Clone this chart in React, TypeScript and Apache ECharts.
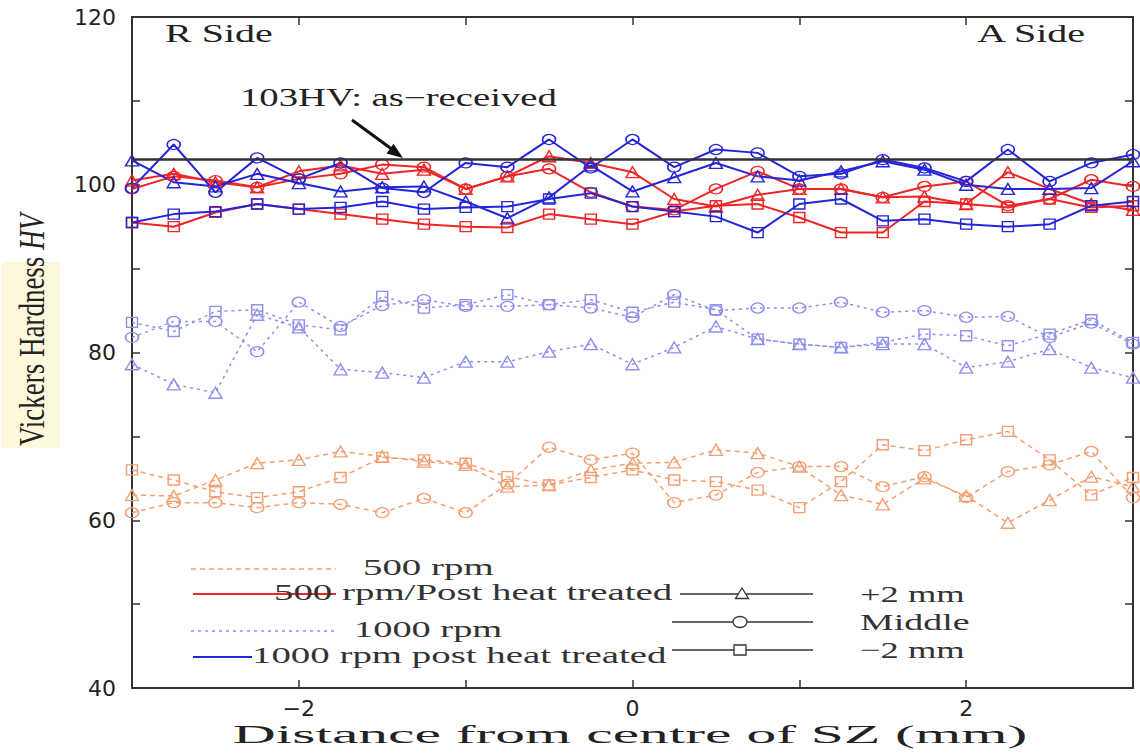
import React, { useEffect, useRef } from "react";
import * as echarts from "echarts";

// ---------- data ----------
const xPositions = [-3, -2.75, -2.5, -2.25, -2, -1.75, -1.5, -1.25, -1, -0.75, -0.5, -0.25, 0, 0.25, 0.5, 0.75, 1, 1.25, 1.5, 1.75, 2, 2.25, 2.5, 2.75, 3];

// 500 rpm (dashed orange)
const rpm500Plus2 = [63.0, 62.9, 64.8, 66.8, 67.2, 68.2, 67.6, 67.0, 66.6, 64.0, 64.2, 66.0, 66.8, 66.9, 68.4, 68.0, 66.4, 63.0, 61.9, 65.0, 62.9, 59.7, 62.4, 65.2, 64.0];
const rpm500Middle = [60.9, 62.1, 62.1, 61.5, 62.1, 61.9, 60.9, 62.6, 60.9, 64.3, 68.7, 67.2, 68.0, 62.1, 63.0, 65.7, 66.4, 66.4, 64.0, 65.2, 62.7, 65.8, 66.6, 68.2, 62.7];
const rpm500Minus2 = [66.0, 64.8, 63.4, 62.7, 63.4, 65.1, 67.5, 67.2, 66.8, 65.2, 64.2, 65.1, 66.0, 64.8, 64.6, 63.6, 61.5, 64.6, 69.0, 68.3, 69.6, 70.6, 67.2, 63.0, 65.1];

// 1000 rpm (dotted blue)
const rpm1000Plus2 = [78.6, 76.2, 75.2, 84.5, 83.0, 78.0, 77.6, 77.0, 78.9, 78.9, 80.1, 81.0, 78.6, 80.6, 83.1, 81.6, 81.0, 80.6, 81.0, 81.0, 78.2, 78.9, 80.4, 78.2, 77.0];
const rpm1000Middle = [81.8, 83.7, 83.7, 80.1, 86.0, 83.1, 85.6, 86.3, 85.5, 85.5, 85.7, 85.3, 84.2, 86.9, 85.0, 85.3, 85.3, 86.0, 84.8, 85.0, 84.2, 84.3, 81.8, 83.5, 81.0];
const rpm1000Minus2 = [83.6, 82.5, 84.9, 85.1, 83.3, 82.7, 86.7, 85.3, 85.7, 86.9, 85.7, 86.3, 84.8, 86.0, 85.1, 81.6, 81.0, 80.6, 81.2, 82.2, 82.0, 80.8, 82.2, 83.9, 81.2];

// 500 rpm / post heat treated (solid red)
const rpm500PhtPlus2 = [100.5, 101.3, 100.3, 99.7, 101.6, 102.3, 101.3, 101.8, 99.5, 101.0, 103.4, 102.6, 101.5, 98.3, 97.4, 98.8, 99.5, 99.5, 98.5, 98.6, 97.7, 101.5, 99.5, 97.7, 97.0];
const rpm500PhtMiddle = [99.5, 101.0, 100.5, 99.7, 100.7, 101.3, 102.4, 102.1, 99.5, 101.0, 101.9, 99.1, 97.4, 97.0, 99.5, 101.6, 99.5, 99.5, 98.5, 99.8, 100.4, 97.5, 98.3, 100.6, 99.8];
const rpm500PhtMinus2 = [95.5, 95.0, 96.7, 97.7, 97.1, 96.5, 95.9, 95.3, 95.0, 94.9, 96.5, 95.9, 95.3, 96.8, 97.5, 97.7, 96.1, 94.3, 94.3, 98.0, 97.7, 97.3, 98.3, 97.3, 97.5];

// 1000 rpm post heat treated (solid blue)
const rpm1000PhtPlus2 = [102.9, 100.3, 99.8, 101.3, 100.2, 99.2, 99.7, 99.8, 98.0, 96.0, 98.5, 102.3, 99.2, 100.9, 102.6, 101.0, 100.5, 101.6, 102.8, 101.8, 100.0, 99.5, 99.5, 99.6, 102.8];
const rpm1000PhtMiddle = [99.6, 104.8, 99.1, 103.2, 100.7, 102.6, 99.6, 99.1, 102.6, 102.1, 105.4, 102.0, 105.4, 102.1, 104.2, 103.8, 101.0, 101.3, 103.0, 102.0, 100.4, 104.2, 100.4, 102.6, 103.6];
const rpm1000PhtMinus2 = [95.5, 96.5, 96.8, 97.7, 97.1, 97.3, 98.0, 97.1, 97.3, 97.4, 98.3, 99.0, 97.4, 96.8, 96.2, 94.3, 97.7, 98.3, 95.7, 95.9, 95.3, 95.0, 95.3, 97.5, 98.0];

const AS_RECEIVED = 103;
const xLabelledTicks = [-2, 0, 2];
const yLabelledTicks = [40, 60, 80, 100, 120];

// ---------- styles ----------
const C_ORANGE = "#f3a074";
const C_LAVENDER = "#8f8fee";
const C_RED = "#f02525";
const C_BLUE = "#2424d8";
const SERIF = '"Liberation Serif", "Times New Roman", serif';
const SANS = '"DejaVu Sans", sans-serif';

const MARKERS: Record<string, { symbol: string; size: number[] }> = {
  plus2: { symbol: "triangle", size: [13, 11] },
  middle: { symbol: "circle", size: [13, 10] },
  minus2: { symbol: "rect", size: [11, 10] },
};

function makeSeries(name: string, ys: number[], color: string, marker: string, dashed: number[] | null, width: number) {
  const m = MARKERS[marker];
  return {
    name,
    type: "line",
    data: xPositions.map((x, i) => [x, ys[i]]),
    symbol: m.symbol,
    symbolSize: m.size,
    showSymbol: true,
    lineStyle: { color, width, type: dashed ? dashed : "solid" },
    itemStyle: { color: "rgba(255,255,255,0)", borderColor: color, borderWidth: 1.4 },
    emphasis: { disabled: true },
    silent: true,
  };
}

function txt(text: string, x: number, y: number, size: number, sx: number, align = "left", fill = "#333") {
  return {
    type: "text",
    x,
    y,
    scaleX: sx,
    z: 100,
    style: {
      text,
      x: 0,
      y: 0,
      fill,
      fontFamily: SERIF,
      fontSize: size,
      textAlign: align,
      align,
      textVerticalAlign: "middle",
      verticalAlign: "middle",
    },
  };
}

function hline(x1: number, x2: number, y: number, stroke: string, lineWidth: number, lineDash?: number[]) {
  return {
    type: "line",
    z: 99,
    shape: { x1, y1: y, x2, y2: y },
    style: { stroke, lineWidth, lineDash: lineDash || null },
  };
}

export default function App() {
  const ref = useRef<HTMLDivElement>(null);

  useEffect(() => {
    if (!ref.current) return;
    const chart = echarts.init(ref.current, null, { renderer: "svg" });

    const axisLine = { show: true, onZero: false, lineStyle: { color: "#333", width: 2 } };
    const axisTick = { show: true, inside: true, length: 8, lineStyle: { color: "#333", width: 1.5 } };

    const fmtX = (v: number) => (xLabelledTicks.includes(v) ? (v < 0 ? "\u2212" + Math.abs(v) : String(v)) : "");
    const fmtY = (v: number) => (yLabelledTicks.includes(v) ? String(v) : "");

    const series: any[] = [
      makeSeries("500 rpm +2 mm", rpm500Plus2, C_ORANGE, "plus2", [5, 4], 1.5),
      makeSeries("500 rpm Middle", rpm500Middle, C_ORANGE, "middle", [5, 4], 1.5),
      makeSeries("500 rpm −2 mm", rpm500Minus2, C_ORANGE, "minus2", [5, 4], 1.5),
      makeSeries("1000 rpm +2 mm", rpm1000Plus2, C_LAVENDER, "plus2", [3, 4], 1.5),
      makeSeries("1000 rpm Middle", rpm1000Middle, C_LAVENDER, "middle", [3, 4], 1.5),
      makeSeries("1000 rpm −2 mm", rpm1000Minus2, C_LAVENDER, "minus2", [3, 4], 1.5),
      makeSeries("500 rpm/Post heat treated +2 mm", rpm500PhtPlus2, C_RED, "plus2", null, 2),
      makeSeries("500 rpm/Post heat treated Middle", rpm500PhtMiddle, C_RED, "middle", null, 2),
      makeSeries("500 rpm/Post heat treated −2 mm", rpm500PhtMinus2, C_RED, "minus2", null, 2),
      makeSeries("1000 rpm post heat treated +2 mm", rpm1000PhtPlus2, C_BLUE, "plus2", null, 2),
      makeSeries("1000 rpm post heat treated Middle", rpm1000PhtMiddle, C_BLUE, "middle", null, 2),
      makeSeries("1000 rpm post heat treated −2 mm", rpm1000PhtMinus2, C_BLUE, "minus2", null, 2),
    ];
    series[series.length - 1].markLine = {
      silent: true,
      symbol: ["none", "none"],
      label: { show: false },
      lineStyle: { color: "#333", width: 2.5, type: "solid" },
      data: [{ yAxis: AS_RECEIVED }],
    };

    const graphic: any[] = [
      // pale highlight behind y title
      { type: "rect", z: 1, shape: { x: 2, y: 262, width: 58, height: 186 }, style: { fill: "#fdf8dc" } },
      {
        type: "text",
        x: 32,
        y: 330,
        rotation: Math.PI / 2,
        scaleY: 1.3,
        z: 100,
        style: {
          text: "{a|Vickers Hardness }{b|HV}",
          rich: {
            a: { fontFamily: SERIF, fontSize: 27, fill: "#222", color: "#222" },
            b: { fontFamily: SERIF, fontSize: 27, fontStyle: "italic", fill: "#222", color: "#222" },
          },
          textAlign: "center",
          align: "center",
          textVerticalAlign: "middle",
          verticalAlign: "middle",
        },
      },
      txt("Distance from centre of SZ (mm)", 630, 735, 25, 2.38, "center", "#222"),
      txt("R Side", 165, 33, 25, 1.6, "left", "#222"),
      txt("A Side", 1085, 33, 25, 1.6, "right", "#222"),
      txt("103HV: as\u2212received", 240, 98, 25, 1.55, "left", "#222"),
      { type: "line", z: 100, shape: { x1: 352, y1: 120, x2: 393, y2: 150 }, style: { stroke: "#111", lineWidth: 3 } },
      { type: "polygon", z: 100, shape: { points: [[403, 158], [386.5, 153.5], [393.5, 143.7]] }, style: { fill: "#111" } },

      // legend: colours / line styles
      hline(191, 336, 569, C_ORANGE, 1.5, [5, 4]),
      txt("500 rpm", 363, 567, 24, 1.62),
      hline(193, 336, 594, C_RED, 2),
      txt("500 rpm/Post heat treated", 274, 592, 24, 1.62),
      hline(191, 336, 631, C_LAVENDER, 1.5, [3, 4]),
      txt("1000 rpm", 354, 629, 24, 1.6),
      hline(193, 252, 657, C_BLUE, 2),
      txt("1000 rpm post heat treated", 252, 655, 24, 1.62),

      // legend: markers
      hline(680, 813, 594, "#333", 1.5),
      { type: "polygon", z: 101, shape: { points: [[742, 588], [735.5, 598.5], [748.5, 598.5]] }, style: { fill: "#fff", stroke: "#333", lineWidth: 1.3 } },
      txt("+2 mm", 860, 594, 24, 1.52),
      hline(672, 813, 622, "#333", 1.5),
      { type: "ellipse", z: 101, shape: { cx: 740, cy: 622, rx: 7, ry: 5.5 }, style: { fill: "#fff", stroke: "#333", lineWidth: 1.3 } },
      txt("Middle", 860, 622, 24, 1.58),
      hline(672, 813, 650, "#333", 1.5),
      { type: "rect", z: 101, shape: { x: 734, y: 645, width: 12, height: 10 }, style: { fill: "#fff", stroke: "#333", lineWidth: 1.3 } },
      txt("\u22122 mm", 860, 650, 24, 1.52),
    ];

    chart.setOption({
      animation: false,
      backgroundColor: "#fff",
      grid: { left: 132, right: 7, top: 17, bottom: 65, containLabel: false },
      xAxis: [
        {
          type: "value",
          min: -3,
          max: 3,
          interval: 1,
          position: "bottom",
          axisLine,
          axisTick,
          splitLine: { show: false },
          axisLabel: { formatter: fmtX, fontSize: 22, fontFamily: SANS, color: "#222", margin: 9 },
        },
        {
          type: "value",
          min: -3,
          max: 3,
          interval: 1,
          position: "top",
          axisLine,
          axisTick,
          splitLine: { show: false },
          axisLabel: { show: false },
        },
      ],
      yAxis: [
        {
          type: "value",
          min: 40,
          max: 120,
          interval: 10,
          position: "left",
          axisLine,
          axisTick,
          splitLine: { show: false },
          axisLabel: { formatter: fmtY, fontSize: 22, fontFamily: SANS, color: "#222", margin: 16 },
        },
        {
          type: "value",
          min: 40,
          max: 120,
          interval: 10,
          position: "right",
          axisLine,
          axisTick,
          splitLine: { show: false },
          axisLabel: { show: false },
        },
      ],
      series,
      graphic,
    });

    return () => chart.dispose();
  }, []);

  return <div ref={ref} style={{ position: "fixed", left: 0, top: 0, width: 1140, height: 753 }} />;
}
